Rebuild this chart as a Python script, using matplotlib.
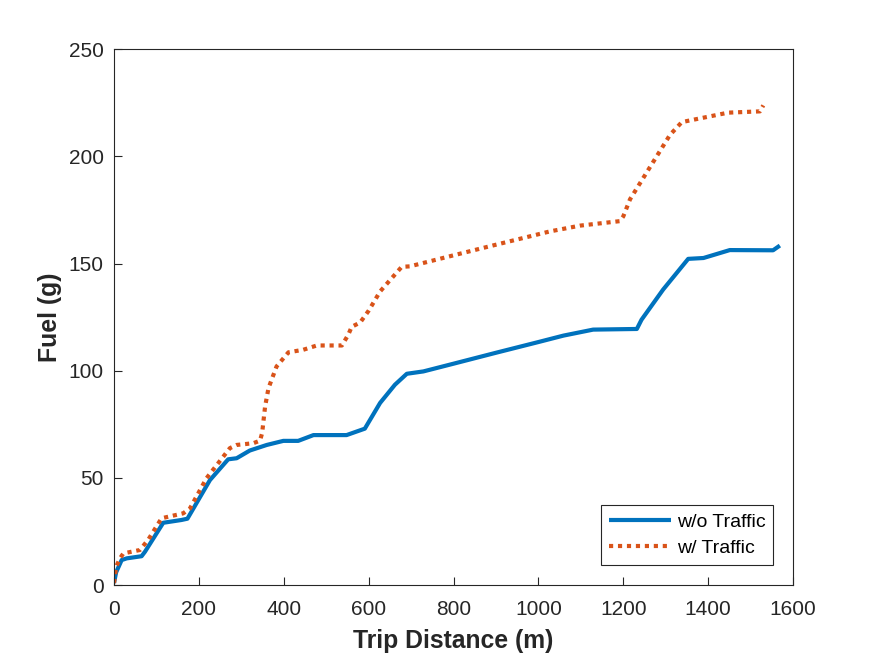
import numpy as np
import matplotlib
matplotlib.use('Agg')
from matplotlib import pyplot as plt

# trip distance (m) and cumulative fuel (g)
dist_no_traffic = [0, 5, 18, 30, 65, 73, 116, 159, 173, 226, 269, 289, 320, 360,
                   399, 434, 470, 548, 591, 627, 662, 690, 729, 800, 900, 1000,
                   1059, 1129, 1232, 1243, 1294, 1353, 1389, 1451, 1553, 1569]
fuel_no_traffic = [1, 6, 11.7, 12.5, 13.5, 15.6, 29.1, 30.4, 31, 49, 58.7, 59.2,
                   62.8, 65.4, 67.3, 67.3, 70, 70, 73, 85, 93.5, 98.6, 99.7,
                   103.3, 108.4, 113.4, 116.4, 119.2, 119.5, 123.8, 137.9, 152.2,
                   152.6, 156.3, 156.2, 158.4]

dist_traffic = [0, 5, 14, 22, 61, 81, 112, 163, 179, 218, 273, 289, 328, 344, 349,
                356, 364, 383, 411, 446, 478, 537, 552, 560, 580, 600, 627, 678,
                697, 807, 902, 1027, 1098, 1192, 1200, 1216, 1310, 1338, 1447,
                1522, 1530]
fuel_traffic = [1, 8.6, 12.5, 14.8, 16.4, 21.3, 31.2, 33.5, 35.8, 49.9, 63.9, 65.4,
                66.2, 67.4, 70.9, 83.3, 91.9, 102, 108.6, 109.8, 111.8, 111.8, 116.8,
                120.5, 122.5, 128, 137, 148.5, 148.7, 154.2, 158.9, 165, 167.7,
                169.8, 172, 180, 210, 216, 220.4, 221, 223.8]

xticks = np.arange(0, 1601, 200)
yticks = np.arange(0, 251, 50)

plt.rcParams['font.family'] = ['Liberation Sans', 'DejaVu Sans']
txt = '#262626'

fig = plt.figure(figsize=(8.75, 6.56), dpi=100)
ax = fig.add_axes([0.1303, 0.108, 0.7760, 0.817])

ax.plot(dist_no_traffic, fuel_no_traffic, color='#0072BD', lw=3.0,
        label='w/o Traffic', solid_capstyle='butt')
ax.plot(dist_traffic, fuel_traffic, color='#D95319', lw=3.0, ls=(0, (1, 1.15)),
        label='w/ Traffic')

ax.set_xlim(0, 1600)
ax.set_ylim(0, 250)
ax.set_xticks(xticks)
ax.set_yticks(yticks)
ax.tick_params(direction='in', length=6, width=0.8, colors=txt,
               labelsize=15, top=False, right=False)
ax.tick_params(axis='x', pad=11)
ax.tick_params(axis='y', pad=7.5)
for s in ax.spines.values():
    s.set_linewidth(0.8)
    s.set_color(txt)

ax.set_xlabel('Trip Distance (m)', fontsize=17.8, fontweight='bold', color=txt,
              labelpad=7)
ax.set_ylabel('Fuel (g)', fontsize=17.8, fontweight='bold', color=txt, labelpad=5)

leg = ax.legend(loc='lower right', bbox_to_anchor=(0.9705, 0.038), fontsize=14,
                fancybox=False, framealpha=1, edgecolor=txt, handlelength=3.2,
                borderpad=0.4, labelspacing=0.45, handletextpad=0.3,
                borderaxespad=0)
leg.get_frame().set_linewidth(0.8)
for t in leg.get_texts():
    t.set_color('#000000')

fig.savefig('out.png', dpi=100)
